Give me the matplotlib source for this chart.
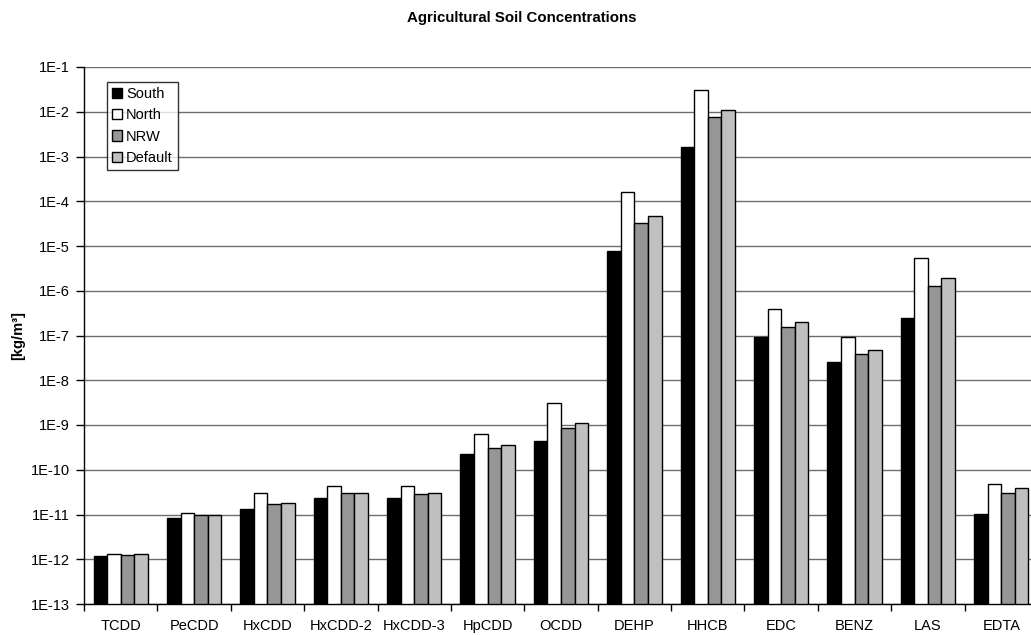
import matplotlib
matplotlib.use("Agg")
import matplotlib.pyplot as plt
import numpy as np
from matplotlib.ticker import FixedLocator

plt.rcParams["font.family"] = ["Liberation Sans", "DejaVu Sans"]

categories = ["TCDD", "PeCDD", "HxCDD", "HxCDD-2", "HxCDD-3", "HpCDD", "OCDD",
              "DEHP", "HHCB", "EDC", "BENZ", "LAS", "EDTA"]
south = [1.09e-12, 8.4e-12, 1.33e-11, 2.38e-11, 2.3e-11, 2.25e-10, 4.3e-10,
         7.8e-6, 1.6e-3, 9.1e-8, 2.5e-8, 2.5e-7, 1.0e-11]
north = [1.2e-12, 1.06e-11, 3.08e-11, 4.4e-11, 4.35e-11, 6.3e-10, 3.15e-9,
         1.64e-4, 3.1e-2, 3.9e-7, 9.1e-8, 5.4e-6, 4.8e-11]
nrw = [1.15e-12, 9.8e-12, 1.72e-11, 2.98e-11, 2.83e-11, 3.1e-10, 8.7e-10,
       3.2e-5, 7.5e-3, 1.55e-7, 3.8e-8, 1.3e-6, 3.0e-11]
default = [1.2e-12, 9.8e-12, 1.84e-11, 3.08e-11, 3.03e-11, 3.5e-10, 1.1e-9,
           4.6e-5, 1.08e-2, 1.96e-7, 4.65e-8, 1.9e-6, 3.9e-11]
series_names = ["South", "North", "NRW", "Default"]
ytick_labels = ["1E-13", "1E-12", "1E-11", "1E-10", "1E-9", "1E-8", "1E-7",
                "1E-6", "1E-5", "1E-4", "1E-3", "1E-2", "1E-1"]

colors = ["#000000", "#ffffff", "#969696", "#c0c0c0"]

fig = plt.figure(figsize=(10.31, 6.35), dpi=100)
ax = fig.add_axes([84 / 1031, 1 - 604 / 635, 954 / 1031, (604 - 67) / 635])

x = np.arange(len(categories))
bw = 0.185
data = [south, north, nrw, default]
for i, (vals, name, c) in enumerate(zip(data, series_names, colors)):
    ax.bar(x + (i - 1.5) * bw, vals, width=bw, color=c, edgecolor="#000000",
           linewidth=1.0, label=name, zorder=3, bottom=1e-13)

ax.set_yscale("log")
ax.set_ylim(1e-13, 1e-1)
ax.set_xlim(-0.5, len(categories) - 0.5)

yt = [10.0 ** e for e in range(-13, 0)]
ax.yaxis.set_major_locator(FixedLocator(yt))
ax.set_yticklabels(ytick_labels, fontsize=10.5)
ax.yaxis.set_minor_locator(FixedLocator([]))
ax.tick_params(axis="y", which="major", direction="out", length=6, width=1, pad=4)

ax.set_xticks(x)
ax.set_xticklabels(categories, fontsize=10.5)
ax.tick_params(axis="x", which="major", length=0, pad=11)
ax.set_xticks(np.arange(len(categories) + 1) - 0.5, minor=True)
ax.tick_params(axis="x", which="minor", direction="out", length=5, width=1)

ax.grid(axis="y", which="major", color="#6e6e6e", linewidth=1.0, zorder=0)
ax.set_axisbelow(True)
for s in ["top", "right"]:
    ax.spines[s].set_visible(False)
ax.spines["left"].set_linewidth(1.0)
ax.spines["bottom"].set_linewidth(1.0)

ax.set_ylabel("[kg/m³]", fontsize=10.5, fontweight="bold", labelpad=4)
fig.text(522 / 1031, 1 - 18 / 635, "Agricultural Soil Concentrations",
         ha="center", va="center", fontsize=10.8, fontweight="bold")

leg = ax.legend(loc="upper left", bbox_to_anchor=(107 / 1031, 1 - 82 / 635),
                bbox_transform=fig.transFigure, fontsize=10.5, frameon=True,
                fancybox=False, edgecolor="#000000", handlelength=0.7,
                handleheight=0.7, handletextpad=0.25, borderpad=0.35,
                labelspacing=0.5, borderaxespad=0)
leg.get_frame().set_linewidth(1.0)
for h in leg.legend_handles:
    h.set_linewidth(1.0)

fig.savefig("out.png", dpi=100)
